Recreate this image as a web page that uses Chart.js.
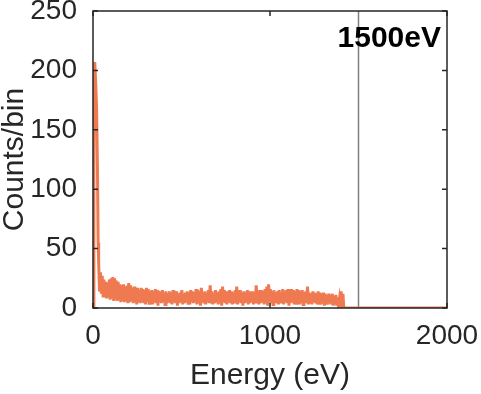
<!DOCTYPE html>
<html><head><meta charset="utf-8">
<script src="https://cdn.jsdelivr.net/npm/chart.js@4"></script>
<style>html,body{margin:0;padding:0;background:#fff}</style>
</head><body>
<canvas id="c" width="481" height="394"></canvas>
<script>
// ---- data ----
const peakEnergy = [0, 5, 10, 15, 20, 25, 29];
const peakCounts = [0, 160, 207, 190, 170, 120, 55];

// noisy plateau: bins every 10 eV from 32 eV; upper / lower excursions of the histogram
const bandStartEnergy = 32;
const bandBinWidth = 10;
const bandUpper = [
 38,30,27,24,22,21,24,25,26,25,
 23,22,20,19,20,18,19,21,19,17,
 18,16,17,15,17,16,15,17,16,14,
 15,14,16,15,13,14,15,13,14,12,
 14,13,15,13,14,12,13,15,12,13,
 14,13,15,14,13,16,15,14,17,12,
 14,13,15,19,14,12,15,13,14,16,
 18,15,14,13,15,14,13,15,18,15,
 15,13,14,13,15,14,13,14,12,19,
 14,15,15,14,16,18,20,16,14,15,
 13,14,15,13,16,14,15,16,15,16,
 15,14,16,15,14,15,13,14,18,13,
 12,14,13,12,14,13,12,13,12,11,
 12,11,12,10,11,9,7,14,12
];
const bandLower = [
 14,12,10,9,8,9,7,8,6,7,
 6,8,5,6,5,7,4,5,6,4,
 5,3,5,4,6,4,3,5,4,5,
 3,5,4,2,5,4,5,3,4,5,
 4,3,5,4,2,4,5,3,4,5,
 4,3,5,4,5,3,4,2,5,4,
 3,5,4,5,3,4,5,3,4,2,
 5,4,3,5,4,3,5,4,3,5,
 4,2,4,5,3,4,5,3,4,5,
 3,4,5,3,4,2,5,4,3,5,
 4,3,5,4,3,5,4,2,4,5,
 3,4,5,3,4,3,5,4,3,4,
 3,5,4,3,4,3,4,2,4,3,
 4,3,2,3,2,1,0,1,0
];
const tailEnergy = [1418, 1600, 1800, 2000];
const tailCounts = [0, 0, 0, 0];

const markerEnergy = 1500;
const markerLabel = '1500eV';
const xLabel = 'Energy (eV)';
const yLabel = 'Counts/bin';
const xTickStep = 1000, xMax = 2000;
const yTickStep = 50, yMax = 250;

// ---- build the series ----
const spectrum = [];
peakEnergy.forEach((e, i) => spectrum.push({x: e, y: peakCounts[i]}));
bandUpper.forEach((u, i) => {
  const e = bandStartEnergy + i * bandBinWidth;
  spectrum.push({x: e, y: u});
  spectrum.push({x: e + bandBinWidth / 2, y: bandLower[i]});
});
tailEnergy.forEach((e, i) => spectrum.push({x: e, y: tailCounts[i]}));

const TEXT = '#262626';
const FONT = '"Liberation Sans", Arial, sans-serif';

const boxPlugin = {
  id: 'box',
  afterDatasetsDraw(chart) {
    const {ctx, chartArea: a, scales: {x, y}} = chart;
    ctx.save();
    ctx.strokeStyle = TEXT;
    ctx.lineWidth = 1.5;
    ctx.strokeRect(a.left, a.top, a.right - a.left, a.bottom - a.top);
    ctx.beginPath();
    const tl = 5;
    x.ticks.forEach(t => {
      const px = x.getPixelForValue(t.value);
      ctx.moveTo(px, a.bottom); ctx.lineTo(px, a.bottom - tl);
      ctx.moveTo(px, a.top); ctx.lineTo(px, a.top + tl);
    });
    y.ticks.forEach(t => {
      const py = y.getPixelForValue(t.value);
      ctx.moveTo(a.left, py); ctx.lineTo(a.left + tl, py);
      ctx.moveTo(a.right, py); ctx.lineTo(a.right - tl, py);
    });
    ctx.stroke();
    ctx.fillStyle = '#000';
    ctx.font = 'bold 30px ' + FONT;
    ctx.textAlign = 'right';
    ctx.textBaseline = 'alphabetic';
    ctx.fillText(markerLabel, a.right - 6, a.top + 36);
    ctx.restore();
  }
};

new Chart(document.getElementById('c'), {
  type: 'line',
  data: {
    datasets: [
      {data: spectrum, borderColor: '#EF7A52', borderWidth: 3, pointRadius: 0, tension: 0, fill: false},
      {data: [{x: markerEnergy, y: 0}, {x: markerEnergy, y: yMax}], borderColor: '#7F7F7F', borderWidth: 1.5, pointRadius: 0, fill: false}
    ]
  },
  options: {
    responsive: false,
    animation: false,
    devicePixelRatio: 1,
    layout: {padding: {left: 0, right: 34, top: 11, bottom: 3}},
    plugins: {legend: {display: false}, tooltip: {enabled: false}},
    scales: {
      x: {
        type: 'linear', min: 0, max: xMax,
        grid: {display: false}, border: {display: false},
        ticks: {stepSize: xTickStep, color: TEXT, font: {family: FONT, size: 28}, padding: 3, maxRotation: 0,
                callback: v => String(v)},
        title: {display: true, text: xLabel, color: TEXT, font: {family: FONT, size: 30, lineHeight: 1}, padding: 0},
        afterFit(s) { s.height = 83; s.paddingLeft = 0; s.paddingRight = 0; }
      },
      y: {
        min: 0, max: yMax,
        grid: {display: false}, border: {display: false},
        ticks: {stepSize: yTickStep, color: TEXT, font: {family: FONT, size: 28}, padding: 8,
                callback: v => String(v)},
        title: {display: true, text: yLabel, color: TEXT, font: {family: FONT, size: 30, lineHeight: 1}, padding: 0},
        afterFit(s) { s.width = 93; s.paddingTop = 0; s.paddingBottom = 0; }
      }
    }
  },
  plugins: [boxPlugin]
});
</script>
</body></html>
